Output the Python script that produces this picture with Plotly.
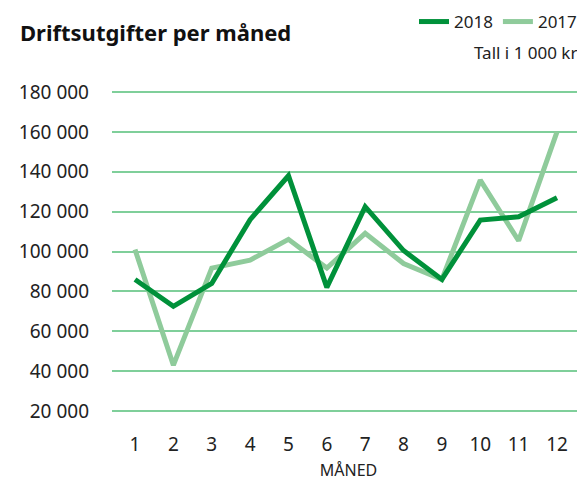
import plotly.graph_objects as go

months = [1, 2, 3, 4, 5, 6, 7, 8, 9, 10, 11, 12]
vals_2018 = [86000, 72500, 84000, 116000, 138000, 82000, 122500, 100500, 86000, 115800, 117400, 127000]
vals_2017 = [101000, 43000, 91700, 95700, 106100, 91700, 109100, 94000, 86000, 135800, 105400, 160000]
y_ticks = [20000, 40000, 60000, 80000, 100000, 120000, 140000, 160000, 180000]

FONT = "Noto Sans"
OFF = 8  # page body margin
W, H = 585 - OFF, 481 - OFF
PLOT_TOP, PLOT_BOT = 88 - OFF, 431 - OFF
fig = go.Figure()
fig.add_trace(go.Scatter(x=months, y=vals_2017, name="2017", mode="lines",
                         line=dict(color="#8fcb9b", width=5)))
fig.add_trace(go.Scatter(x=months, y=vals_2018, name="2018", mode="lines",
                         line=dict(color="#00913a", width=5)))

fig.update_layout(
    width=W, height=H,
    margin=dict(l=112 - OFF, r=0, t=PLOT_TOP, b=H - PLOT_BOT, autoexpand=False),
    paper_bgcolor="white", plot_bgcolor="white",
    separators=", ",
    font=dict(family=FONT, size=19, color="#222222"),
    title=dict(text="<b>Driftsutgifter per måned</b>", x=(20 - OFF) / W, xanchor="left",
               xref="container", pad=dict(l=0, r=0, t=0, b=0),
               y=1 - (33 - OFF) / H, yanchor="middle", font=dict(size=22, color="#111111")),
    legend=dict(orientation="h", x=574 / W, xanchor="right", xref="container",
                y=1 - (22 - OFF) / H, yanchor="middle", itemwidth=30,
                yref="container", traceorder="reversed", font=dict(size=17)),
    showlegend=True,
    annotations=[dict(text="Tall i 1 000 kr", xref="paper", yref="paper",
                      x=1, xanchor="right", xshift=-6,
                      y=(PLOT_BOT - (52 - OFF)) / (PLOT_BOT - PLOT_TOP), yanchor="middle",
                      showarrow=False, font=dict(size=17, color="#222222"))],
)
fig.update_xaxes(range=[0.4, 12.73], tickvals=months, showgrid=False, zeroline=False,
                 showline=False, ticks="", tickfont=dict(size=19),
                 title=dict(text="MÅNED", font=dict(size=16), standoff=20))
fig.update_yaxes(range=[10000, 182000], tickvals=y_ticks, tickformat=",d",
                 showgrid=True, gridcolor="#7fcf9a", gridwidth=1.5, zeroline=False,
                 showline=False, ticks="", ticklabelstandoff=22, tickfont=dict(size=19))

fig.write_html("out.html")
